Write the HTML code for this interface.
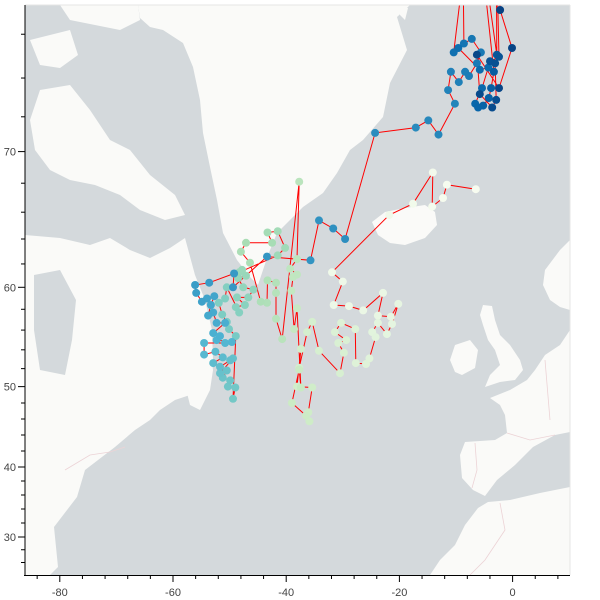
<!DOCTYPE html>
<html><head><meta charset="utf-8"><style>
html,body{margin:0;padding:0;background:#fff;}
svg{display:block;font-family:"Liberation Sans",sans-serif;}
</style></head><body>
<svg id="chart" width="600" height="600" viewBox="0 0 600 600">
<defs><clipPath id="plotclip"><rect x="25" y="5" width="545" height="570"/></clipPath></defs>
<g clip-path="url(#plotclip)">
  <rect x="25" y="5" width="545" height="570" fill="#d4d9dc"/>
  <g fill="#fafaf8" stroke="none">
    <polygon points="138,5 410,5 397,17 407,50 390,83 383,117 363,140 350,150 337,173 323,193 303,207 290,220 277,233 268,255 258,285 250,277 237,260 223,233 217,200 210,167 203,133 200,100 193,67 183,43 163,30 150,27 140,18"/>
    <polygon points="60,5 138,5 140,20 120,30 95,25 70,20"/>
    <polygon points="30,40 70,30 78,55 60,68 40,65"/>
    <polygon points="40,90 70,85 90,110 110,140 130,150 150,175 175,195 185,215 165,220 140,210 120,195 95,185 70,180 50,170 35,150 30,120"/>
    <polygon points="25,235 60,238 90,245 110,238 130,250 150,258 170,248 185,238 195,275 205,300 212,330 213,360 205,375 195,385 190,395 175,400 160,410 150,420 135,430 115,447 85,470 77,497 54,527 58,567 50,575 25,575"/>
    <polygon points="180,345 195,340 210,350 213,370 210,390 200,410 190,405 185,385 180,365"/>
    <polygon points="372,222 385,212 405,208 425,205 435,212 437,225 425,238 405,245 390,243 378,235"/>
    <polygon points="400,5 408,8 405,20 400,15"/>
    <polygon points="483,305 492,306 495,320 500,335 510,345 520,360 523,370 515,380 500,382 485,387 490,375 500,365 495,350 488,340 483,325 480,315"/>
    <polygon points="455,345 470,340 478,350 475,368 462,375 455,372 450,360"/>
    <polygon points="545,270 560,250 570,240 570,310 560,307 550,300 543,285"/>
    <polygon points="570,330 560,345 545,355 535,370 527,380 510,390 490,398 500,405 505,415 507,433 495,440 465,442 460,455 462,478 473,490 485,496 497,480 515,465 533,447 555,435 570,432"/>
    <polygon points="570,487 540,493 510,500 488,502 478,508 465,525 455,545 440,560 430,575 570,575"/>
  </g>
  <polygon fill="#d4d9dc" points="34,275 60,270 76,300 72,340 65,375 40,370 34,330"/>
  <g fill="none" stroke="#ecd3d6" stroke-width="0.8">
    <polyline points="65,470 90,455 110,452 125,447"/>
    <polyline points="475,443 477,470 472,488"/>
    <polyline points="507,433 530,440 555,435"/>
    <polyline points="500,503 505,530 485,560 470,575"/>
    <polyline points="545,360 550,420"/>
  </g>
</g>
<g id="marks" clip-path="url(#plotclip)"></g>
<g id="axes">
  <line x1="25" y1="5" x2="570" y2="5" stroke="#e5e5e5"/>
  <line x1="570" y1="5" x2="570" y2="575" stroke="#e5e5e5"/>
  <line x1="25" y1="5" x2="25" y2="576" stroke="#000"/>
  <line x1="24" y1="575.5" x2="570" y2="575.5" stroke="#000"/>
</g>
</svg>
<script>
// ---- data: lon / lat of each fix, in time order ----
const lon = [
-6.5,-11.6,-12.3,-14.2,-14.1,-17.6,-21.8,-31.9,-30.0,-31.6,-28.9,-26.4,-22.9,-23.8,-21.5,-20.2,-21.3,-22.2,-23.8,-24.8,-24.2,-25.3,-25.9,-27.7,-27.8,-30.3,-31.4,-29.4,-30.8,-29.8,-30.5,-34.2,
-35.4,-36.3,-37.7,-37.4,-38.1,-35.4,-36.1,-35.9,-36.5,-39.0,-37.7,-37.4,
-38.1,-38.6,-39.1,-38.8,-38.1,-39.3,-38.1,-37.7,-40.7,-41.8,-41.8,-41.8,-43.3,-43.4,-44.5,-46.4,-48.0,-47.1,-42.5,-43.3,-41.5,-40.2,-41.5,
-48.3,-47.8,-47.1,-48.5,-47.6,-45.8,-46.7,-48.7,-47.3,-48.9,-48.3,-50.5,-50.8,-51.9,-51.3,-50.5,-50.1,-48.9,
-49.4,-49.0,-50.3,-49.9,-51.2,-50.5,-51.7,-49.4,-49.9,-51.7,-52.9,-51.2,-52.5,-54.5,-54.5,-50.8,-49.6,-52.3,-51.7,-52.9,-50.8,-52.3,-52.9,-53.8,-53.3,-52.7,-54.0,-54.9,-55.9,-56.1,-53.6,
-49.2,-49.4,-43.4,-35.7,-34.2,-31.7,-29.6,-24.3,-17.1,-14.9,-13.1,-10.2,-11.4,-10.9,-9.5,
-8.4,-7.7,-6.3,-5.6,-7.2,-8.6,-8.8,-8.0,-10.4,-9.6,-5.8,-4.3,-5.4,-6.6,-6.1,-5.2,-4.2,-3.8,-3.3,-5.8,-5.6,-2.8,-2.9,-2.4,-4.0,-3.1,-2.9,-3.6,-5.8,-6.3,-2.4,-0.1,-2.2,-2.6
];
const lat = [
67.6,67.9,67.0,66.4,68.7,66.6,65.8,61.3,60.5,58.4,58.3,57.9,59.5,57.4,57.3,58.5,56.6,55.6,56.7,55.8,55.3,53.1,52.5,52.6,56.1,56.7,55.8,55.0,54.7,53.7,51.5,53.9,
56.8,55.8,52.1,54.1,50.0,49.9,47.0,45.9,46.6,48.1,51.9,49.9,
58.1,56.1,59.7,60.9,61.1,61.6,62.4,68.1,55.1,57.1,59.5,60.4,60.6,58.6,58.7,62.1,63.0,63.7,63.7,64.5,64.6,63.3,62.7,
61.3,61.5,61.0,60.8,60.0,59.8,59.1,59.1,58.4,58.2,57.7,60.0,59.0,58.6,57.5,56.8,56.1,55.4,
48.6,49.9,50.0,50.7,51.0,51.8,51.5,53.1,52.9,52.2,52.6,53.2,53.8,53.5,54.7,54.7,54.8,55.0,55.4,55.7,56.7,56.7,57.7,57.4,58.4,59.2,59.0,58.7,59.5,60.2,60.4,
61.2,60.0,62.6,62.3,65.4,64.8,64.0,71.1,71.4,71.8,71.0,72.7,73.4,74.3,73.8,
74.3,74.1,74.7,75.2,75.8,75.6,79.5,79.5,75.2,75.4,74.4,74.5,73.5,72.7,72.5,72.6,73.0,73.5,74.3,79.5,79.5,75.1,79.5,75.0,74.8,74.7,72.9,72.5,73.2,75.1,73.5,75.4,77.0,79.5
];
// x tick labels (degrees longitude) and y tick labels (degrees latitude)
const xTickLabels = [-80,-60,-40,-20,0];
const yTickLabels = [70,60,50,40,30];

// ---- axis functions (Web Mercator) ----
const X0 = 512.6, PX_PER_DEG = 5.66, R = PX_PER_DEG*180/Math.PI, Y60 = 287.3;
function merc(la){ return Math.log(Math.tan(Math.PI/4 + la*Math.PI/360)); }
function xScale(lo){ return X0 + lo*PX_PER_DEG; }
function yScale(la){ return Y60 - R*(merc(la) - merc(60)); }
function yTickPos(la){
  if (la >= 50) return yScale(la);
  const k=[[50,387],[40,467],[30,537],[26,562.5],[20,600]];
  for (let i=0;i<k.length-1;i++){ const a=k[i],b=k[i+1];
    if (la<=a[0] && la>=b[0]) return a[1]+(a[0]-la)/(a[0]-b[0])*(b[1]-a[1]); }
  return 600;
}
const cmap = ["#f7fcf0","#e0f3db","#ccebc5","#a8ddb5","#7bccc4","#4eb3d3","#2b8cbe","#0868ac","#084081"];
function hex(c){return [1,3,5].map(i=>parseInt(c.substr(i,2),16));}
function colorAt(t){
  t=Math.max(0,Math.min(1,t)); const p=t*(cmap.length-1), i=Math.min(cmap.length-2,Math.floor(p)), f=p-i;
  const a=hex(cmap[i]), b=hex(cmap[i+1]);
  return "rgb("+a.map((v,j)=>Math.round(v+(b[j]-v)*f)).join(",")+")";
}
const NS="http://www.w3.org/2000/svg";
const marks=document.getElementById("marks");
const n=Math.min(lon.length,lat.length);
const pts=[]; for(let i=0;i<n;i++) pts.push(xScale(lon[i]).toFixed(1)+","+yScale(lat[i]).toFixed(1));
const line=document.createElementNS(NS,"polyline");
line.setAttribute("points",pts.join(" "));
line.setAttribute("fill","none"); line.setAttribute("stroke","#ff0000"); line.setAttribute("stroke-width","1");


marks.appendChild(line);
for(let i=0;i<n;i++){
  const c=document.createElementNS(NS,"circle");
  c.setAttribute("cx",xScale(lon[i]).toFixed(1));
  c.setAttribute("cy",yScale(lat[i]).toFixed(1));
  c.setAttribute("r","4");
  c.setAttribute("fill",colorAt(i/(n-1)));
  
  
  marks.appendChild(c);
}
const axes=document.getElementById("axes");
function mk(tag,attrs){const e=document.createElementNS(NS,tag);for(const k in attrs)e.setAttribute(k,attrs[k]);axes.appendChild(e);return e;}
for(let lo=-84; lo<=8; lo+=4){
  const x=xScale(lo); if(x<25||x>570) continue;
  const major = xTickLabels.indexOf(lo)>=0;
  const t=mk("line",{x1:x,x2:x,y1:575,y2:major?582:579,stroke:"#000"});
  
  
}
xTickLabels.forEach(v=>{
  const t=mk("text",{x:xScale(v),y:596,"text-anchor":"middle","font-size":"11",fill:"#444"});
  t.textContent=String(v);
  
  
});
for(let la=26; la<=78; la+=2){
  const y=yTickPos(la); if(y<5||y>575) continue;
  const major = yTickLabels.indexOf(la)>=0;
  const t=mk("line",{x1:major?18:21,x2:25,y1:y,y2:y,stroke:"#000"});
  
  
}
yTickLabels.forEach(v=>{
  const t=mk("text",{x:16,y:yTickPos(v)+4,"text-anchor":"end","font-size":"11",fill:"#444"});
  t.textContent=String(v);
  
  
});
</script>
</body></html>
